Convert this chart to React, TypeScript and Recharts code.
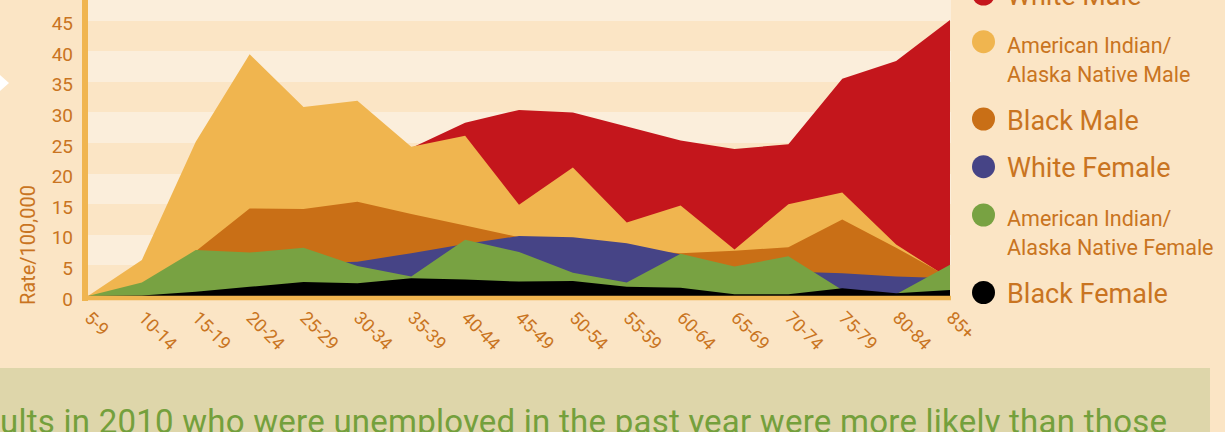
import React from 'react';
import { AreaChart, Area, XAxis, YAxis, CartesianGrid, Legend, Label } from 'recharts';

const ageGroups = ['5-9', '10-14', '15-19', '20-24', '25-29', '30-34', '35-39', '40-44', '45-49', '50-54', '55-59', '60-64', '65-69', '70-74', '75-79', '80-84', '85+'];
const whiteMale = [0, 1.6, 11.5, 20.5, 22.5, 23.5, 24.2, 28.3, 30.4, 30.0, 27.7, 25.4, 24.0, 24.8, 35.5, 38.4, 45.1];
const aianMale = [0, 5.9, 25.2, 39.5, 30.9, 31.9, 24.4, 26.2, 14.9, 21.0, 12.0, 14.8, 7.6, 15.0, 16.9, 8.4, 2.8];
const blackMale = [0, 0.9, 7.3, 14.3, 14.2, 15.4, 13.4, 11.5, 9.6, 8.6, 7.6, 7.0, 7.4, 7.95, 12.5, 7.9, 3.0];
const whiteFemale = [0, 0.5, 2.5, 4.5, 5.3, 5.6, 7.0, 8.5, 9.8, 9.6, 8.6, 6.8, 4.2, 4.0, 3.7, 3.2, 2.9];
const aianFemale = [0, 2.2, 7.5, 7.1, 7.9, 4.9, 3.2, 9.2, 7.2, 3.8, 2.2, 6.9, 4.8, 6.5, 1.0, 0.3, 5.1];
const blackFemale = [0, 0.1, 0.7, 1.5, 2.3, 2.1, 2.9, 2.7, 2.35, 2.45, 1.5, 1.35, 0.3, 0.3, 1.25, 0.45, 1.0];
const yTicks = [0, 5, 10, 15, 20, 25, 30, 35, 40, 45, 50];

const seriesDefs = [
  { key: 'whiteMale', values: whiteMale, color: '#C4161C', lines: ['White Male'] },
  { key: 'aianMale', values: aianMale, color: '#F0B54F', lines: ['American Indian/', 'Alaska Native Male'] },
  { key: 'blackMale', values: blackMale, color: '#C96F16', lines: ['Black Male'] },
  { key: 'whiteFemale', values: whiteFemale, color: '#464486', lines: ['White Female'] },
  { key: 'aianFemale', values: aianFemale, color: '#78A242', lines: ['American Indian/', 'Alaska Native Female'] },
  { key: 'blackFemale', values: blackFemale, color: '#000000', lines: ['Black Female'] },
];

const data = ageGroups.map((age, i) => {
  const row: Record<string, string | number> = { age };
  seriesDefs.forEach((s) => {
    row[s.key] = s.values[i];
  });
  return row;
});

const TEXT = '#C97421';
const FONT = 'Roboto, sans-serif';
const BG = '#FBE5C5';
const LIGHT = '#FBEEDB';
const AXIS = '#F0B550';
const SHIFT = 40; // chart drawn 40px above the visible frame

// legend layout (page y): circle centre and text baselines
const legendLayout = [
  { cy: -6, base: [5] },
  { cy: 41.7, base: [53.3, 81.7] },
  { cy: 119, base: [130] },
  { cy: 166.7, base: [177] },
  { cy: 215, base: [226, 255] },
  { cy: 292.5, base: [303] },
];

function XTick(props: any) {
  const { x, y, payload } = props;
  const ax = x - 4.5;
  const ay = y + 21;
  return (
    <text x={ax} y={ay} transform={`rotate(45, ${ax}, ${ay})`} fill={TEXT} fontSize={18} fontFamily={FONT} textAnchor="start">
      {payload.value}
    </text>
  );
}

function YTick(props: any) {
  const { x, y, payload } = props;
  return (
    <text x={x} y={y + 9.5} fill={TEXT} fontSize={19} fontFamily={FONT} textAnchor="end">
      {payload.value}
    </text>
  );
}

function YLabel(props: any) {
  const vb = props.viewBox || { x: 0, y: 0, width: 0, height: 0 };
  const cx = 28;
  const cy = vb.y + vb.height - 53;
  return (
    <text x={cx} y={cy} dy="0.36em" transform={`rotate(-90, ${cx}, ${cy})`} fill={TEXT} fontSize={20} fontFamily={FONT} textAnchor="middle">
      Rate/100,000
    </text>
  );
}

function LegendContent(props: any) {
  const payload: any[] = props.payload || [];
  const colorOf = (key: string, fallback: string) => {
    const p = payload.find((e) => e.dataKey === key);
    return p && p.color ? p.color : fallback;
  };
  return (
    <svg width={265} height={472} style={{ display: 'block', overflow: 'visible' }}>
      {seriesDefs.map((s, i) => {
        const lay = legendLayout[i];
        const big = s.lines.length === 1;
        return (
          <g key={s.key}>
            <circle cx={23.5} cy={lay.cy + SHIFT} r={11.5} fill={colorOf(s.key, s.color)} />
            {s.lines.map((ln, j) => (
              <text key={j} x={47} y={lay.base[j] + SHIFT} fill={TEXT} fontSize={big ? 27 : 21.5} fontFamily={FONT}>
                {ln}
              </text>
            ))}
          </g>
        );
      })}
    </svg>
  );
}

export default function App() {
  return (
    <div style={{ position: 'absolute', left: 0, top: 0, width: 1225, height: 432, overflow: 'hidden', background: BG, fontFamily: FONT }}>
      <div style={{ position: 'absolute', left: 0, top: -SHIFT }}>
        <AreaChart width={1225} height={472} data={data} margin={{ top: 30, right: 274, bottom: 74, left: 0 }}>
          <CartesianGrid vertical={false} stroke="none" horizontalFill={[LIGHT, BG]} fillOpacity={1} />
          <XAxis
            dataKey="age"
            height={60}
            padding={{ left: 3, right: 1 }}
            tickSize={0}
            tickMargin={0}
            tickLine={false}
            interval={0}
            axisLine={{ stroke: AXIS, strokeWidth: 4.4 }}
            tick={<XTick />}
          />
          <YAxis
            width={85}
            domain={[0, 50]}
            ticks={yTicks}
            interval={0}
            padding={{ top: 0, bottom: 2 }}
            tickSize={0}
            tickMargin={12}
            tickLine={false}
            axisLine={{ stroke: AXIS, strokeWidth: 6, strokeLinecap: 'square' }}
            tick={<YTick />}
          >
            <Label content={<YLabel />} />
          </YAxis>
          {seriesDefs.map((s) => (
            <Area
              key={s.key}
              type="linear"
              dataKey={s.key}
              name={s.lines.join(' ')}
              fill={s.color}
              fillOpacity={1}
              stroke="none"
              dot={false}
              activeDot={false}
              isAnimationActive={false}
            />
          ))}
          <Legend
            layout="vertical"
            align="center"
            verticalAlign="middle"
            width={265}
            height={472}
            wrapperStyle={{ left: 960, top: 0, width: 265, height: 472 }}
            content={<LegendContent />}
          />
        </AreaChart>
      </div>
      <svg style={{ position: 'absolute', left: 0, top: 0 }} width={12} height={100}>
        <polygon points="0,75 9,83 0,91" fill="#FFFFFF" />
      </svg>
      <div style={{ position: 'absolute', left: 0, top: 368, width: 1210, height: 64, background: '#DED6AA' }}>
        <svg width={1210} height={64} style={{ display: 'block' }}>
          <text x={0} y={65} fill="#74A03C" fontSize={33} fontFamily={FONT} textLength={1167} lengthAdjust="spacing">
            ults in 2010 who were unemployed in the past year were more likely than those
          </text>
        </svg>
      </div>
    </div>
  );
}
